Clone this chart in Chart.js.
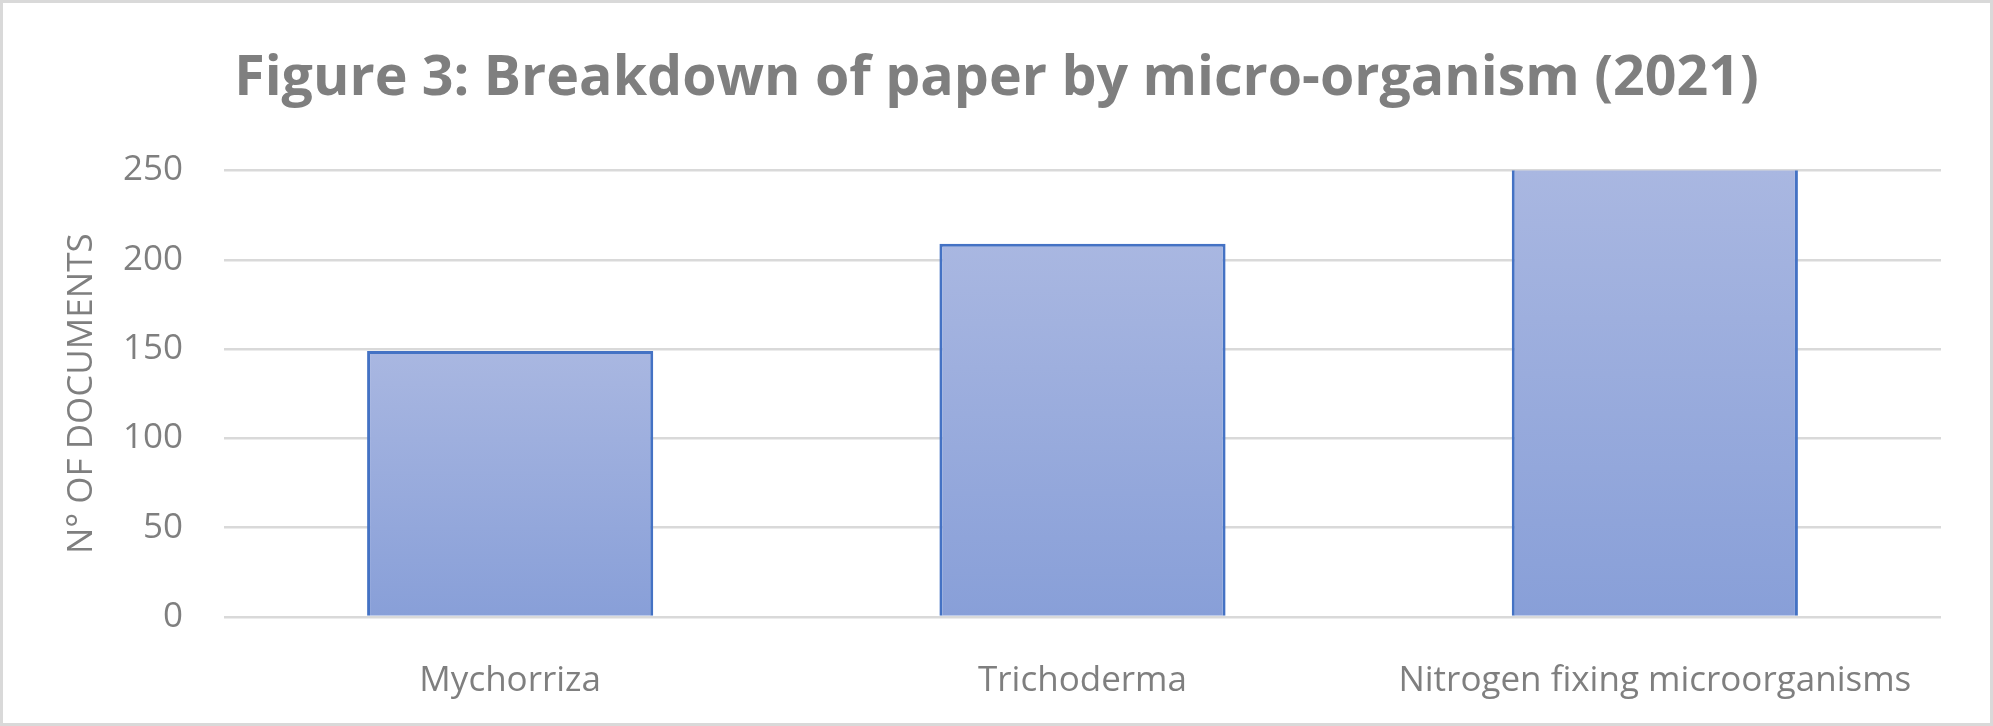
<!DOCTYPE html>
<html>
<head>
<meta charset="utf-8">
<script src="https://cdn.jsdelivr.net/npm/chart.js@4.4.0/dist/chart.umd.min.js"></script>
<style>
    body { margin: 0; background: #ffffff; }
</style>
</head>
<body>
<canvas id="documentChart" width="1993" height="726"></canvas>
<script>
const labels = ["Mychorriza", "Trichoderma", "Nitrogen fixing microorganisms"];
const documents = [149, 209, 270];
const yTicks = [0, 50, 100, 150, 200, 250];

const judul = "Figure 3: Breakdown of paper by micro-organism (2021)";
const judulSumbuY = "N° OF DOCUMENTS";

const abu = "#7f7f7f";
const garis = "#d9d9d9";

// Gradasi per batang, terang di atas dan lebih gelap di bawah
function gradasiBatang(context) {
    const chart = context.chart;
    const area = chart.chartArea;
    if (!area) return "rgba(160, 176, 222, 1)";
    const y = chart.scales.y;
    const nilai = Math.min(context.parsed.y, y.max);
    const atas = y.getPixelForValue(nilai);
    const g = chart.ctx.createLinearGradient(0, atas, 0, area.bottom);
    g.addColorStop(0, "rgb(169, 183, 225)");
    g.addColorStop(1, "rgb(136, 159, 216)");
    return g;
}

// Latar putih dan bingkai abu-abu di tepi gambar
const bingkai = {
    id: "bingkai",
    beforeDraw(chart) {
        const ctx = chart.ctx;
        ctx.save();
        ctx.fillStyle = "#ffffff";
        ctx.fillRect(0, 0, chart.width, chart.height);
        ctx.strokeStyle = garis;
        ctx.lineWidth = 3;
        ctx.strokeRect(1.5, 1.5, chart.width - 3, chart.height - 3);
        ctx.restore();
    }
};

const ctx = document.getElementById("documentChart").getContext("2d");
const documentChart = new Chart(ctx, {
    type: "bar",
    data: {
        labels: labels,
        datasets: [{
            label: "Documents",
            data: documents,
            backgroundColor: gradasiBatang,
            borderColor: "#4472c4",
            borderWidth: 3,
            borderSkipped: "bottom",
            barPercentage: 0.5,
            categoryPercentage: 1,
            clip: 0
        }]
    },
    options: {
        responsive: false,
        devicePixelRatio: 1,
        animation: false,
        layout: {
            padding: { left: 52, right: 52, top: 0, bottom: 0 }
        },
        plugins: {
            legend: { display: false },
            tooltip: { enabled: false },
            title: {
                display: true,
                text: judul,
                color: abu,
                font: { family: "'Open Sans'", size: 55.5, weight: "bold" },
                padding: { top: 46, bottom: 57.9 }
            }
        },
        scales: {
            x: {
                grid: { display: false },
                border: { display: false },
                ticks: {
                    color: abu,
                    font: { family: "'Open Sans'", size: 35 },
                    padding: 35,
                    maxRotation: 0
                },
                afterFit(scale) { scale.height = 109; }
            },
            y: {
                min: 0,
                max: 250,
                afterBuildTicks(scale) {
                    scale.ticks = yTicks.map(v => ({ value: v }));
                },
                grid: {
                    color: garis,
                    lineWidth: 2.5,
                    drawTicks: false
                },
                border: { display: false },
                ticks: {
                    color: abu,
                    font: { family: "'Open Sans'", size: 35 },
                    padding: 41
                },
                title: {
                    display: true,
                    text: judulSumbuY,
                    color: abu,
                    font: { family: "'Open Sans'", size: 35 },
                    padding: { top: 9, bottom: 0 }
                },
                afterFit(scale) { scale.width = 172; }
            }
        }
    },
    plugins: [bingkai]
});
</script>
</body>
</html>
